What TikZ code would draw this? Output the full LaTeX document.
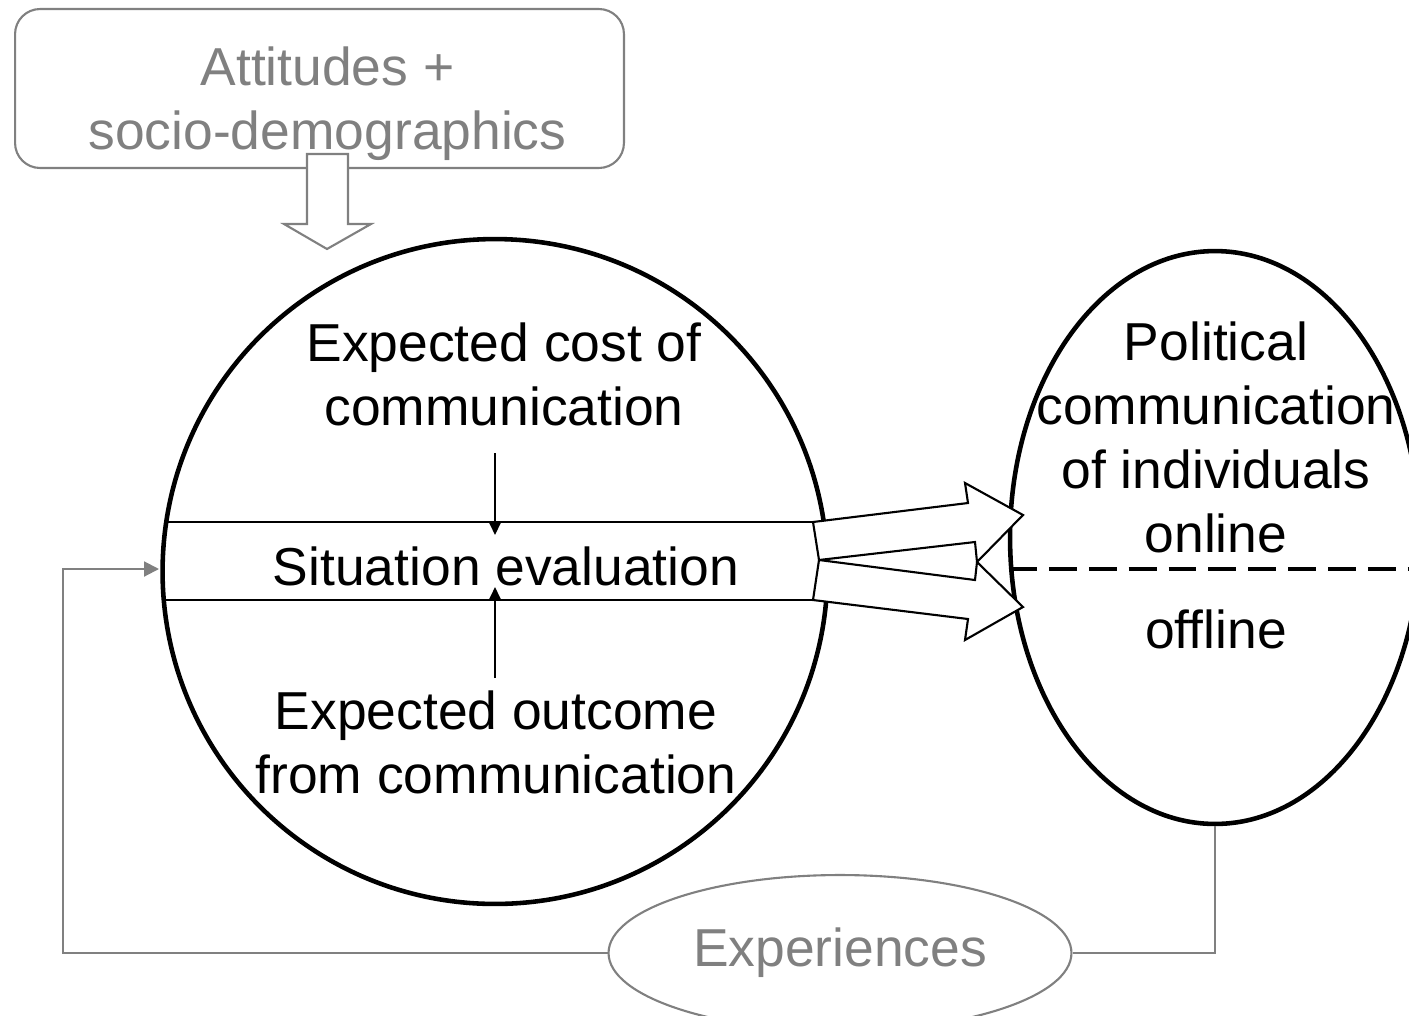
\documentclass[tikz,border=0pt]{standalone}
\usepackage{fontspec}
\setmainfont{Liberation Sans}
\usetikzlibrary{arrows.meta, shapes.geometric}
\tikzset{every picture/.style={x=0.02cm,y=-0.02cm},
  txt/.style={align=center,inner sep=0pt,font=\fontsize{30.4}{36.4}\selectfont},
  graytxt/.style={txt,text=gray},
  bigshape/.style={draw,line width=2.6pt,inner sep=0pt},
  band/.style={draw,line width=1.2pt},
  blockarrow/.style={draw,fill=white,line width=1.2pt},
  grayarrow/.style={draw=gray,fill=white,line width=1.2pt},
  feedback/.style={draw=gray,line width=1.2pt},
  evalarrow/.style={line width=1.2pt,-{Triangle[length=7.4pt,width=6.8pt]}}}

\begin{document}
\begin{tikzpicture}
    \useasboundingbox (0,0) rectangle (1409,1015);

    % attitudes box
    \node[draw=gray,line width=1.2pt,rounded corners=0.5cm,minimum width=12.18cm,minimum height=3.18cm] (att) at (319.5,88.5) {};
    \node[graytxt] (atttxt) at (327.5,104) {Attitudes +\\socio-demographics};
    \draw[grayarrow] (307,154) -- (348,154) -- (348,224) -- (371,224) -- (327,249) -- (284,224) -- (307,224) -- cycle;

    % evaluation circle and communication ellipse
    \node[bigshape,circle,minimum size=13.3cm] (eval) at (495,571.5) {};
    \node[bigshape,ellipse,minimum width=8.2cm,minimum height=11.46cm] (polit) at (1215,537.5) {};

    \draw[band] (165.5,522) -- (815,522);
    \draw[band] (163.5,600) -- (815,600);
    \draw[line width=2.4pt,dash pattern=on 15.9pt off 6.8pt] (1009,569) -- (1420,569);

    \node[txt] (costtxt) at (504,374) {Expected cost of\\communication};
    \node[txt,anchor=base] (sittxt) at (506,585) {Situation evaluation};
    \node[txt] (outcometxt) at (496,742) {Expected outcome\\from communication};
    \node[txt] (polittxt) at (1216,437.5) {Political\\communication\\of individuals\\online};
    \node[txt,anchor=base] (offtxt) at (1216,648) {offline};

    \coordinate (costfoot) at (495,453);
    \coordinate (costhit) at (495,535);
    \coordinate (outfoot) at (495,678);
    \coordinate (outhit) at (495,587);
    \draw[evalarrow] (costfoot) -- (costhit);
    \draw[evalarrow] (outfoot) -- (outhit);

    % arrows to online / offline
    \draw[blockarrow] (813,522) -- (968,503) -- (965,483) -- (1023,515) -- (977,562) -- (975,542) -- (819,560) -- cycle;
    \draw[blockarrow] (819,560) -- (975,580) -- (977,562) -- (1023,607) -- (965,640) -- (968,619) -- (813,600) -- cycle;

    % experiences feedback
    \node[graytxt,draw=gray,line width=1.2pt,ellipse,minimum width=9.26cm,minimum height=3.12cm] (exper) at (840,953) {Experiences};
    \coordinate (fbturn) at (63,953);
    \coordinate (fbin) at (159,569);
    \draw[feedback] (polit.south) |- (exper.east);
    \draw[feedback,-{Triangle[length=8.5pt,width=8.5pt]}] (exper.west) -- (fbturn) |- (fbin);
\end{tikzpicture}
\end{document}
